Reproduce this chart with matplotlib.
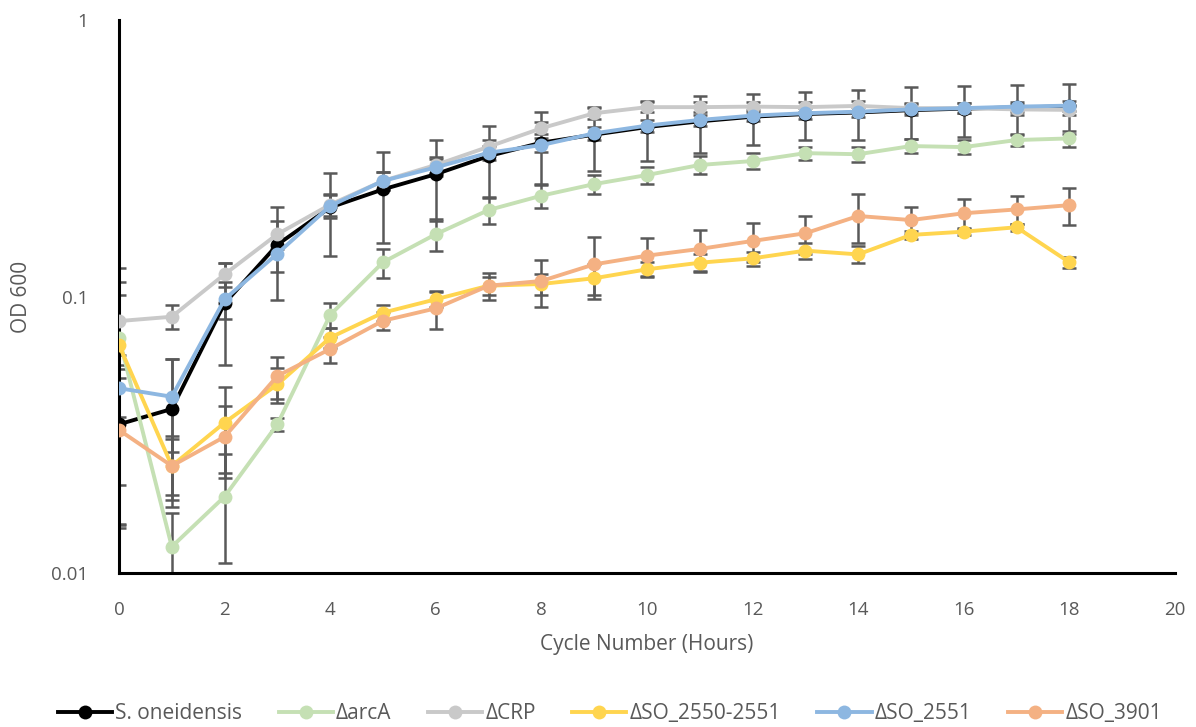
import matplotlib
matplotlib.use("Agg")
import matplotlib.pyplot as plt
from matplotlib.lines import Line2D

plt.rcParams['font.family'] = ['Open Sans', 'DejaVu Sans']

hours = list(range(19))
series_names = ["S. oneidensis", "ΔarcA", "ΔCRP", "ΔSO_2550-2551", "ΔSO_2551", "ΔSO_3901"]

wt = [0.0345, 0.0392, 0.0945, 0.154, 0.21, 0.244, 0.277, 0.322, 0.360, 0.385, 0.41, 0.43, 0.447, 0.457, 0.463, 0.472, 0.478, 0.483, 0.487]
arcA = [0.071, 0.01245, 0.0189, 0.0345, 0.0858, 0.133, 0.168, 0.2055, 0.2315, 0.255, 0.275, 0.299, 0.309, 0.330, 0.327, 0.350, 0.347, 0.368, 0.373]
crp = [0.0815, 0.0845, 0.1203, 0.168, 0.215, 0.262, 0.299, 0.348, 0.406, 0.46, 0.484, 0.484, 0.486, 0.484, 0.489, 0.48, 0.48, 0.475, 0.473]
so2550 = [0.0668, 0.0244, 0.035, 0.0481, 0.071, 0.0874, 0.0977, 0.1094, 0.111, 0.1164, 0.1254, 0.1325, 0.1374, 0.1465, 0.142, 0.167, 0.1716, 0.178, 0.133]
so2551 = [0.0466, 0.0434, 0.0977, 0.143, 0.2125, 0.262, 0.293, 0.331, 0.353, 0.389, 0.415, 0.435, 0.451, 0.46, 0.466, 0.475, 0.48, 0.486, 0.49]
so3901 = [0.0329, 0.0244, 0.0311, 0.0516, 0.0646, 0.0817, 0.0906, 0.1094, 0.1138, 0.1307, 0.1405, 0.1486, 0.1588, 0.1693, 0.1955, 0.189, 0.20, 0.2065, 0.214]

wt_err = [0.02, 0.02, 0.038, 0.057, 0.07, 0.088, 0.09, 0.093, 0.105, 0.1, 0.1, 0.1, 0.095, 0.09, 0.095, 0.1, 0.1, 0.1, 0.1]
arcA_err = [0.056, 0.004, 0.008, 0.002, 0.009, 0.016, 0.022, 0.022, 0.022, 0.02, 0.02, 0.022, 0.02, 0.018, 0.02, 0.02, 0.02, 0.018, 0.025]
crp_err = [0.02, 0.0085, 0.012, 0.02, 0.02, 0.02, 0.02, 0.02, 0.02, 0.02, 0.02, 0.02, 0.02, 0.02, 0.02, 0.02, 0.02, 0.02, 0.02]
so2550_err = [0.046, 0.006, 0.012, 0.007, 0.006, 0.006, 0.006, 0.008, 0.01, 0.015, 0.008, 0.01, 0.008, 0.01, 0.01, 0.005, 0.005, 0.005, 0.006]
so2551_err = [0.01, 0.016, 0.015, 0.02, 0.02, 0.02, 0.02, 0.02, 0.02, 0.02, 0.02, 0.02, 0.02, 0.02, 0.02, 0.02, 0.02, 0.02, 0.02]
so3901_err = [0.018, 0.007, 0.009, 0.009, 0.007, 0.006, 0.014, 0.012, 0.022, 0.033, 0.022, 0.025, 0.025, 0.027, 0.04, 0.021, 0.025, 0.024, 0.032]

colors = ["#000000", "#C5E0B4", "#C9C9C9", "#FFD54F", "#8DB7E1", "#F4B183"]
values = [wt, arcA, crp, so2550, so2551, so3901]
errors = [wt_err, arcA_err, crp_err, so2550_err, so2551_err, so3901_err]

fig = plt.figure(figsize=(11.96, 7.27), dpi=100)
ax = fig.add_axes([0.0995, 0.2118, 0.8829, 0.7607])

for vals, errs in zip(values, errors):
    ax.errorbar(hours, vals, yerr=errs, fmt='none', ecolor='#595959',
                elinewidth=1.8, capsize=5, capthick=1.8, zorder=2)
for i, (vals, c, name) in enumerate(zip(values, colors, series_names)):
    ax.plot(hours, vals, color=c, lw=2.8, marker='o', markersize=10,
            markeredgewidth=0, label=name, zorder=3 + i)

ax.set_yscale('log')
ax.set_ylim(0.01, 1)
ax.set_xlim(0, 20)
ax.set_xticks(range(0, 21, 2))
ax.set_yticks([0.01, 0.1, 1])
ax.set_yticklabels(["0.01", "0.1", "1"])
ax.yaxis.set_minor_locator(matplotlib.ticker.NullLocator())
ax.tick_params(axis='both', length=0, labelsize=13.5, labelcolor='#595959')
ax.tick_params(axis='y', pad=22)
ax.tick_params(axis='x', pad=20)

for s in ['top', 'right']:
    ax.spines[s].set_visible(False)
for s in ['left', 'bottom']:
    ax.spines[s].set_linewidth(2.2)
    ax.spines[s].set_color('black')

ax.set_xlabel("Cycle Number (Hours)", fontsize=15, color='#595959', va='center')
ax.xaxis.set_label_coords(0.5, -0.130)
ax.set_ylabel("OD 600", fontsize=15, color='#595959', va='center')
ax.yaxis.set_label_coords(-0.092, 0.5)

handles = [Line2D([0], [0], color=c, lw=2.8, marker='o', markersize=10, markeredgewidth=0)
           for c in colors]
fig.legend(handles, series_names, loc='center', bbox_to_anchor=(0.51, 0.018),
           ncol=6, frameon=False, fontsize=15, labelcolor='#595959',
           handlelength=2.6, columnspacing=1.75, handletextpad=0.15)

fig.savefig("out.png", dpi=100)
